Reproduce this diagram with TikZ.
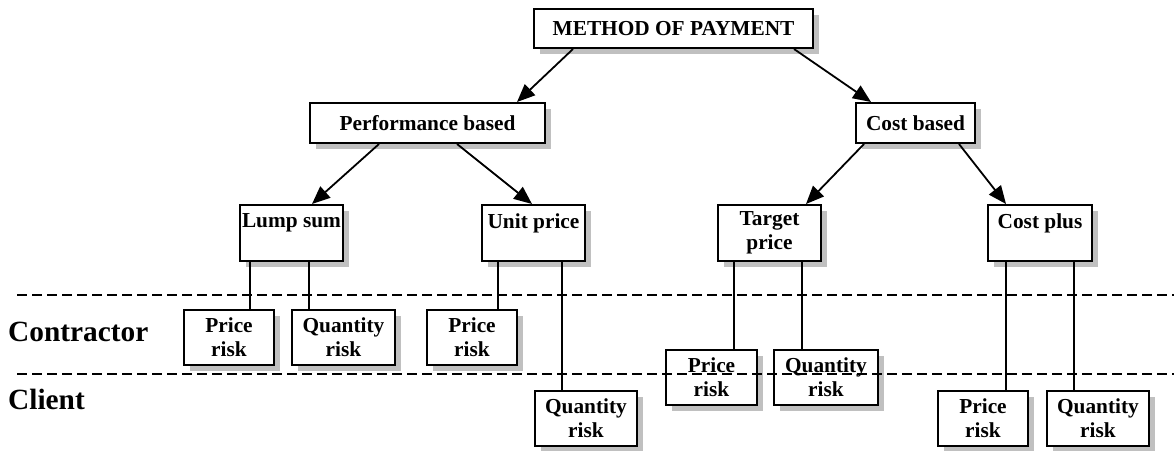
\documentclass[tikz,border=0pt]{standalone}
\usepackage{fontspec}
\setmainfont{Liberation Serif}
\usetikzlibrary{arrows.meta,shadows,calc}
\definecolor{shadowgray}{RGB}{192,192,192}
\tikzset{
  box/.style={draw, line width=2pt, fill=white, inner sep=0pt, align=center,
    font=\fontsize{21.33}{24}\selectfont\bfseries,
    drop shadow={shadow xshift=6pt, shadow yshift=-6pt, fill=shadowgray, opacity=1}},
  arr/.style={line width=1.8pt, -{Triangle[length=18pt,width=15pt]}},
  link/.style={line width=2pt},
  sep/.style={line width=1.6pt, dash pattern=on 10pt off 5pt},
  lab/.style={anchor=base west, inner sep=0pt, font=\fontsize{29.33}{32}\selectfont\bfseries}
}
\begin{document}
\begin{tikzpicture}[x=1pt,y=-1pt]
\useasboundingbox (0,0) rectangle (1174,450);
% level 0/1
\node[box, minimum width=279pt, minimum height=39pt] (method) at (673.5,28.5) {METHOD OF PAYMENT};
\node[box, minimum width=235pt, minimum height=40pt] (perf) at (427.5,123) {Performance based};
\node[box, minimum width=119pt, minimum height=40pt] (cost) at (915.5,123) {Cost based};
% level 2
\node[box, minimum width=103pt, minimum height=56pt] (lump) at (291.5,233) {Lump sum\\\mbox{}};
\node[box, minimum width=103pt, minimum height=56pt] (unit) at (533.5,233) {Unit price\\\mbox{}};
\node[box, minimum width=103pt, minimum height=56pt] (target) at (769.5,233) {Target\\price};
\node[box, minimum width=104pt, minimum height=56pt] (plus) at (1040,233) {Cost plus\\\mbox{}};
% risks
\node[box, minimum width=90pt, minimum height=55pt] (pr1) at (229,337.5) {Price\\risk};
\node[box, minimum width=103pt, minimum height=55pt] (qr1) at (343.5,337.5) {Quantity\\risk};
\node[box, minimum width=90pt, minimum height=55pt] (pr2) at (472,337.5) {Price\\risk};
\node[box, minimum width=102pt, minimum height=55pt] (qr2) at (586,418) {Quantity\\risk};
\node[box, minimum width=91pt, minimum height=55pt] (pr3) at (711.5,377.5) {Price\\risk};
\node[box, minimum width=104pt, minimum height=55pt] (qr3) at (826,377.5) {Quantity\\risk};
\node[box, minimum width=90pt, minimum height=55pt] (pr4) at (983,418) {Price\\risk};
\node[box, minimum width=102pt, minimum height=55pt] (qr4) at (1098,418) {Quantity\\risk};
% arrows
\draw[arr] ($(method.south west)+(40,0)$) -- ($(perf.north west)+(208,0)$);
\draw[arr] ($(method.south east)+(-20,0)$) -- ($(cost.north west)+(16,0)$);
\draw[arr] ($(perf.south west)+(70,0)$) -- ($(lump.north west)+(73,0)$);
\draw[arr] ($(perf.south west)+(148,0)$) -- ($(unit.north west)+(51,0)$);
\draw[arr] ($(cost.south west)+(9,0)$) -- ($(target.north west)+(89,0)$);
\draw[arr] ($(cost.south west)+(104,0)$) -- ($(plus.north west)+(19,0)$);
% vertical links
\coordinate (l1) at ($(lump.south west)+(11,0)$);
\coordinate (l2) at ($(lump.south west)+(70,0)$);
\coordinate (u1) at ($(unit.south west)+(17,0)$);
\coordinate (u2) at ($(unit.south west)+(81,0)$);
\coordinate (t1) at ($(target.south west)+(17,0)$);
\coordinate (t2) at ($(target.south west)+(85,0)$);
\coordinate (c1) at ($(plus.south west)+(19,0)$);
\coordinate (c2) at ($(plus.south west)+(87,0)$);
\draw[link] (l1) -- (l1 |- pr1.north);
\draw[link] (l2) -- (l2 |- qr1.north);
\draw[link] (u1) -- (u1 |- pr2.north);
\draw[link] (u2) -- (u2 |- qr2.north);
\draw[link] (t1) -- (t1 |- pr3.north);
\draw[link] (t2) -- (t2 |- qr3.north);
\draw[link] (c1) -- (c1 |- pr4.north);
\draw[link] (c2) -- (c2 |- qr4.north);
% separators
\coordinate (s1a) at (17,295);
\coordinate (s1b) at (1174,295);
\coordinate (s2a) at (17,374);
\coordinate (s2b) at (1174,374);
\draw[sep] (s1a) -- (s1b);
\draw[sep] (s2a) -- (s2b);
% labels
\node[lab] (contractor) at (8,341) {Contractor};
\node[lab] (client) at (8,409) {Client};
\end{tikzpicture}
\end{document}
